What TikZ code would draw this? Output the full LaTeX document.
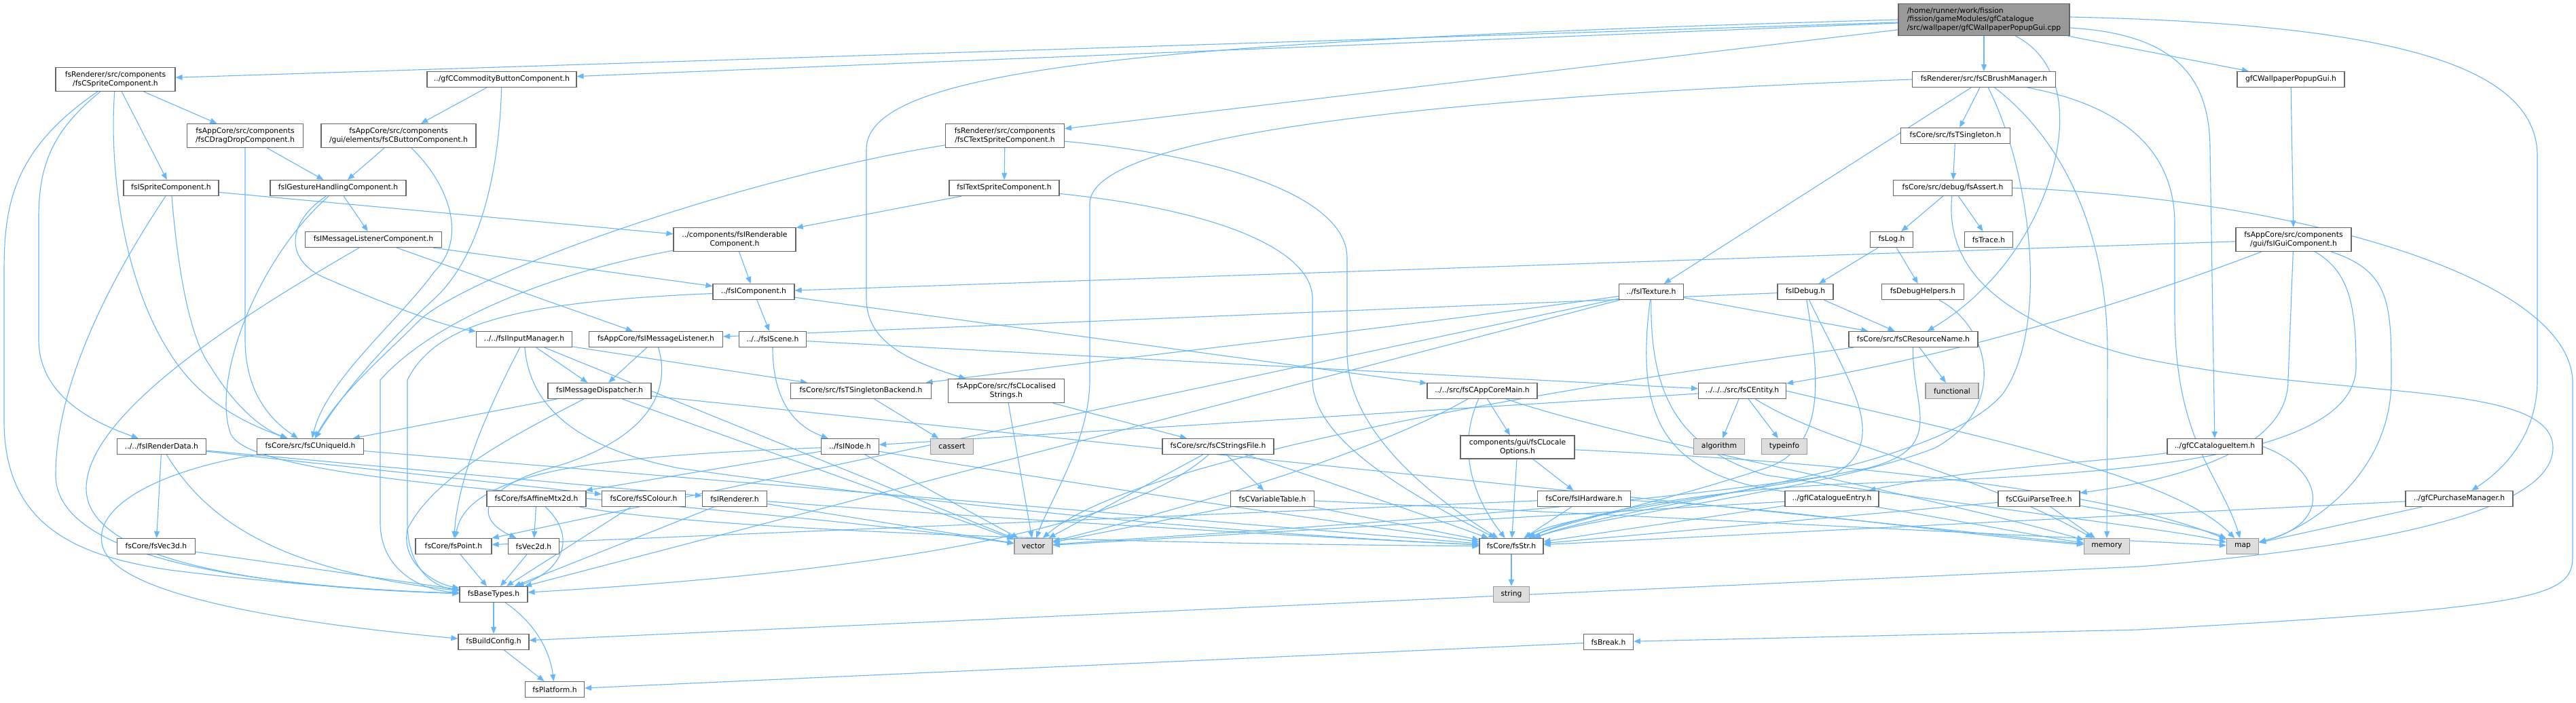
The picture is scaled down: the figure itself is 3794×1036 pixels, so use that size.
\documentclass[tikz,border=0pt]{standalone}
\usepackage{fontspec}
\newfontfamily\dv{DejaVu Sans}
\usetikzlibrary{arrows.meta}
\pgfdeclarelayer{back}
\pgfdeclarelayer{bg}
\pgfsetlayers{back,bg,main}
\definecolor{edgeblue}{HTML}{63B8FF}
\definecolor{nodeborder}{HTML}{666666}
\definecolor{sysfill}{HTML}{DDDDDD}
\definecolor{sysborder}{HTML}{999999}
\definecolor{mainfill}{HTML}{999999}
\begin{document}
\begin{tikzpicture}[x=1pt,y=-1pt,
  nd/.style={draw=nodeborder, fill=white, line width=1.2pt, font={\dv\fontsize{10.8}{12.6}\selectfont}, inner sep=1pt, minimum height=23pt, align=center},
  two/.style={minimum height=35pt},
  sys/.style={nd, draw=sysborder, fill=sysfill},
  ed/.style={draw=edgeblue, line width=1.1pt, -{Triangle[length=10pt,width=8pt]}}]
\begin{pgfonlayer}{back}
\fill[white] (0,0) rectangle (3794,1036);
\end{pgfonlayer}
\useasboundingbox (0,0) rectangle (3794,1036);
% ---------------- nodes
\node[nd, fill=mainfill, minimum width=252, minimum height=47, align=left] (main) at (2922,29) {/home/runner/work/fission\\/fission/gameModules/gfCatalogue\\/src/wallpaper/gfCWallpaperPopupGui.cpp};
\node[nd, two, minimum width=176] (csprite) at (170,117) {fsRenderer/src/components\\/fsCSpriteComponent.h};
\node[nd, minimum width=220] (commodity) at (739,117) {../gfCCommodityButtonComponent.h};
\node[nd, minimum width=211] (brush) at (2922,117) {fsRenderer/src/fsCBrushManager.h};
\node[nd, minimum width=158] (wallgui) at (3374,117) {gfCWallpaperPopupGui.h};
\node[nd, two, minimum width=171] (dragdrop) at (361,200) {fsAppCore/src/components\\/fsCDragDropComponent.h};
\node[nd, two, minimum width=228] (button) at (587,200) {fsAppCore/src/components\\/gui/elements/fsCButtonComponent.h};
\node[nd, two, minimum width=175] (textsprite) at (1480,200) {fsRenderer/src/components\\/fsCTextSpriteComponent.h};
\node[nd, minimum width=161] (tsingleton) at (2880,200) {fsCore/src/fsTSingleton.h};
\node[nd, minimum width=140] (ispritec) at (252,277) {fsISpriteComponent.h};
\node[nd, minimum width=200] (gesture) at (498,277) {fsIGestureHandlingComponent.h};
\node[nd, minimum width=162] (itextsprite) at (1479,277) {fsITextSpriteComponent.h};
\node[nd, minimum width=175] (assert) at (2876,277) {fsCore/src/debug/fsAssert.h};
\node[nd, minimum width=201] (msglc) at (550,353) {fsIMessageListenerComponent.h};
\node[nd, two, minimum width=180] (renderable) at (1082,353) {../components/fsIRenderable\\Component.h};
\node[nd, minimum width=63] (log) at (2786,353) {fsLog.h};
\node[nd, minimum width=71] (trace) at (2929,353) {fsTrace.h};
\node[nd, two, minimum width=170] (guicomp) at (3378,353) {fsAppCore/src/components\\/gui/fsIGuiComponent.h};
\node[nd, minimum width=120] (icomp) at (1110,430) {../fsIComponent.h};
\node[nd, minimum width=95] (itexture) at (2432,430) {../fsITexture.h};
\node[nd, minimum width=82] (idebug) at (2659,430) {fsIDebug.h};
\node[nd, minimum width=121] (debughelpers) at (2832,430) {fsDebugHelpers.h};
\node[nd, minimum width=141] (inputmgr) at (772,500) {../../fsIInputManager.h};
\node[nd, minimum width=197] (msglistener) at (966,500) {fsAppCore/fsIMessageListener.h};
\node[nd, minimum width=99] (scene) at (1138,500) {../../fsIScene.h};
\node[nd, minimum width=190] (resname) at (2818,500) {fsCore/src/fsCResourceName.h};
\node[nd, minimum width=152] (msgdisp) at (883,576) {fsIMessageDispatcher.h};
\node[nd, minimum width=207] (sbackend) at (1268,576) {fsCore/src/fsTSingletonBackend.h};
\node[nd, two, minimum width=171] (localised) at (1482,576) {fsAppCore/src/fsCLocalised\\Strings.h};
\node[nd, minimum width=162] (appcoremain) at (2183,576) {../../src/fsCAppCoreMain.h};
\node[nd, minimum width=129] (entity) at (2566,576) {../../../src/fsCEntity.h};
\node[sys, minimum width=78] (functional) at (2875,576) {functional};
\node[nd, minimum width=131] (renderdata) at (238,658) {../../fsIRenderData.h};
\node[nd, minimum width=157] (uniqueid) at (457,658) {fsCore/src/fsCUniqueId.h};
\node[nd, minimum width=85] (inode) at (1252,658) {../fsINode.h};
\node[sys, minimum width=63] (cassert) at (1402,658) {cassert};
\node[nd, minimum width=164] (stringsfile) at (1794,658) {fsCore/src/fsCStringsFile.h};
\node[nd, two, minimum width=168, minimum height=34] (localeopts) at (2235,659) {components/gui/fsCLocale\\Options.h};
\node[sys, minimum width=75] (algorithm) at (2532,658) {algorithm};
\node[sys, minimum width=67] (typeinfo) at (2628,658) {typeinfo};
\node[nd, minimum width=140] (catitem) at (3262,658) {../gfCCatalogueItem.h};
\node[nd, minimum width=146] (affine) at (790,735) {fsCore/fsAffineMtx2d.h};
\node[nd, minimum width=123] (scolour) at (948,735) {fsCore/fsSColour.h};
\node[nd, minimum width=95] (irenderer) at (1082,735) {fsIRenderer.h};
\node[nd, minimum width=123] (vartable) at (1874,735) {fsCVariableTable.h};
\node[nd, minimum width=137] (ihardware) at (2333,735) {fsCore/fsIHardware.h};
\node[nd, minimum width=138] (catentry) at (2698,735) {../gfICatalogueEntry.h};
\node[nd, minimum width=120] (parsetree) at (3003,735) {fsCGuiParseTree.h};
\node[nd, minimum width=158] (purchase) at (3622,735) {../gfCPurchaseManager.h};
\node[nd, minimum width=115] (vec3d) at (230,805) {fsCore/fsVec3d.h};
\node[nd, minimum width=112] (point) at (668,805) {fsCore/fsPoint.h};
\node[nd, minimum width=75] (vec2d) at (786,805) {fsVec2d.h};
\node[sys, minimum width=56] (vector) at (1522,805) {vector};
\node[nd, minimum width=94] (fsstr) at (2226,805) {fsCore/fsStr.h};
\node[sys, minimum width=67] (memory) at (3103,805) {memory};
\node[sys, minimum width=47] (map) at (3303,805) {map};
\node[nd, minimum width=100] (basetypes) at (727,876) {fsBaseTypes.h};
\node[sys, minimum width=53] (string) at (2226,876) {string};
\node[nd, minimum width=104] (buildconfig) at (727,946) {fsBuildConfig.h};
\node[nd, minimum width=73] (breakh) at (2369,946) {fsBreak.h};
\node[nd, minimum width=87] (platform) at (817,1016) {fsPlatform.h};
% ---------------- edges
\begin{pgfonlayer}{bg}
% main
\draw[ed] (main) -- (csprite);
\draw[ed] (main) -- (commodity);
\draw[ed] (main) -- (textsprite);
\draw[ed] (main.west) .. controls (1700,60) and (1276,100) .. (1276,220) -- (1276,440) .. controls (1276,500) and (1330,530) .. (localised);
\draw[ed] (main) -- (brush);
\draw[ed] (main) -- (wallgui);
\draw[ed] ([yshift=-12pt]main.east) .. controls (3200,50) and (3255,110) .. (3255,220) -- (catitem);
\draw[ed] ([yshift=4pt]main.east) .. controls (3500,35) and (3737,90) .. (3737,230) -- (3737,560) .. controls (3737,640) and (3690,690) .. (purchase);
\draw[ed] (main) .. controls (3040,90) and (3045,180) .. (3020,260) .. controls (2990,360) and (2920,440) .. (resname);
% brush
\draw[ed] (brush) -- (tsingleton);
\draw[ed] (brush) -- (itexture);
\draw[ed] (brush.west) .. controls (2200,140) and (1605,190) .. (1605,300) -- (1605,560) .. controls (1605,650) and (1545,740) .. (vector);
\draw[ed] (brush) .. controls (3030,200) and (3104,330) .. (3104,520) -- (memory);
\draw[ed] (brush) .. controls (3150,160) and (3203,240) .. (3203,330) -- (3203,460) .. controls (3203,650) and (3270,700) .. (map);
\draw[ed] (brush) .. controls (2990,250) and (3020,480) .. (2950,580) .. controls (2850,700) and (2400,740) .. (fsstr);
% singleton / assert / log
\draw[ed] (tsingleton) -- (assert);
\draw[ed] (assert) -- (log);
\draw[ed] (assert) -- (trace);
\draw[ed] (assert.east) .. controls (3350,290) and (3780,400) .. (3789,560) -- (3789,820) .. controls (3789,880) and (3740,895) .. (3150,928) -- (breakh);
\draw[ed] (assert) .. controls (2866,380) and (2920,470) .. (3150,527) .. controls (3450,590) and (3760,560) .. (3760,660) .. controls (3760,770) and (3400,815) .. (3150,835) -- (buildconfig);
\draw[ed] (log) -- (idebug);
\draw[ed] (log) -- (debughelpers);
\draw[ed] (idebug) -- (resname);
\draw[ed] (idebug) -- (msglistener);
\draw[ed] (idebug) .. controls (2680,560) and (2690,660) .. (2600,690) .. controls (2450,740) and (2300,770) .. (fsstr);
\draw[ed] (idebug) .. controls (2720,560) and (2790,650) .. (2700,700) .. controls (2300,760) and (1700,790) .. (vector);
\draw[ed] (debughelpers) .. controls (2930,480) and (2960,600) .. (2850,660) .. controls (2700,720) and (2350,760) .. (fsstr);
% texture
\draw[ed] (itexture) -- (resname);
\draw[ed] (itexture) .. controls (2000,490) and (1750,515) .. (sbackend);
\draw[ed] (itexture) -- (basetypes);
\draw[ed] (itexture) -- (point);
\draw[ed] (itexture) .. controls (2410,600) and (2440,690) .. (2600,720) .. controls (2850,760) and (3000,790) .. (memory);
\draw[ed] (itexture) .. controls (2430,580) and (2470,660) .. (2600,700) .. controls (3000,760) and (3200,780) .. (map);
% resource name
\draw[ed] (resname) -- (functional);
\draw[ed] (resname) .. controls (2815,600) and (2870,660) .. (2750,690) .. controls (2550,730) and (2300,760) .. (fsstr);
\draw[ed] (resname) .. controls (2600,530) and (1700,650) .. (vector);
% gui component
\draw[ed] (guicomp) -- (icomp);
\draw[ed] (guicomp) .. controls (3150,440) and (2900,520) .. (entity);
\draw[ed] (guicomp) -- (3370,560) .. controls (3370,650) and (3250,700) .. (parsetree);
\draw[ed] (guicomp) .. controls (3460,400) and (3470,450) .. (3470,540) .. controls (3470,680) and (3100,700) .. (2750,712) .. controls (2500,720) and (2320,760) .. (fsstr);
\draw[ed] (guicomp) .. controls (3522,400) and (3522,450) .. (3522,560) .. controls (3522,700) and (3400,780) .. (map);
\draw[ed] (wallgui) -- (guicomp);
% catalogue
\draw[ed] (catitem) .. controls (3100,680) and (2900,690) .. (catentry);
\draw[ed] (catitem.east) .. controls (3420,690) and (3440,770) .. (map);
\draw[ed] (purchase) -- (map);
\draw[ed] (purchase) -- (fsstr);
\draw[ed] (catentry) -- (fsstr);
\draw[ed] (catentry) -- (vector);
\draw[ed] (parsetree) -- (memory);
\draw[ed] (parsetree) .. controls (3150,760) and (3250,780) .. (map);
\draw[ed] (parsetree) -- (fsstr);
% entity
\draw[ed] (entity) -- (algorithm);
\draw[ed] (entity) -- (typeinfo);
\draw[ed] (entity) -- (inode);
\draw[ed] (entity) .. controls (2700,660) and (2900,690) .. (memory);
\draw[ed] (entity.east) .. controls (2900,640) and (3200,700) .. (map);
% app core main
\draw[ed] (appcoremain) -- (localeopts);
\draw[ed] (appcoremain) .. controls (2150,650) and (2160,720) .. (fsstr);
\draw[ed] (appcoremain) .. controls (2000,680) and (1700,760) .. (vector);
\draw[ed] (appcoremain) .. controls (2400,650) and (2800,720) .. (memory);
\draw[ed] (localeopts) -- (fsstr);
\draw[ed] (localeopts) -- (ihardware);
\draw[ed] (localeopts) .. controls (2700,680) and (3100,720) .. (map);
\draw[ed] (ihardware) -- (fsstr);
\draw[ed] (ihardware) -- (point);
\draw[ed] (ihardware) .. controls (2600,745) and (2900,790) .. (memory);
% strings
\draw[ed] (stringsfile) -- (vartable);
\draw[ed] (stringsfile) -- (vector);
\draw[ed] (stringsfile) .. controls (1900,690) and (2100,760) .. (fsstr);
\draw[ed] (stringsfile) .. controls (1700,740) and (1500,830) .. (basetypes);
\draw[ed] (vartable) -- (fsstr);
\draw[ed] (vartable) -- (vector);
\draw[ed] (vartable) .. controls (2400,760) and (3000,790) .. (map);
\draw[ed] (localised) -- (vector);
\draw[ed] (localised) -- (stringsfile);
\draw[ed] (sbackend) -- (cassert);
% messages / input
\draw[ed] (msgdisp) -- (uniqueid);
\draw[ed] (msgdisp) .. controls (760,640) and (640,700) .. (600,780) .. controls (590,830) and (640,860) .. (basetypes);
\draw[ed] (msgdisp) -- (vector);
\draw[ed] (msgdisp) -- (memory);
\draw[ed] (inputmgr) .. controls (720,600) and (675,700) .. (point);
\draw[ed] (inputmgr) -- (msgdisp);
\draw[ed] (inputmgr) -- (sbackend);
\draw[ed] (inputmgr) -- (vector);
\draw[ed] (inputmgr) .. controls (780,600) and (850,660) .. (1000,690) .. controls (1500,760) and (1900,790) .. (fsstr);
\draw[ed] (msglistener) -- (msgdisp);
\draw[ed] (msglistener) .. controls (990,580) and (950,650) .. (810,690) .. controls (720,715) and (690,760) .. (vec2d);
\draw[ed] (scene) .. controls (1138,560) and (1150,620) .. (inode);
\draw[ed] (scene) -- (entity);
\draw[ed] (icomp) -- (scene);
\draw[ed] (icomp) .. controls (750,445) and (640,480) .. (600,560) -- (600,770) .. controls (600,840) and (640,865) .. (basetypes);
\draw[ed] (icomp) -- (appcoremain);
\draw[ed] (renderable) -- (icomp);
\draw[ed] (renderable) .. controls (820,400) and (640,470) .. (560,560) -- (560,770) .. controls (560,840) and (620,870) .. (basetypes);
% sprites
\draw[ed] (textsprite) -- (itextsprite);
\draw[ed] (textsprite) .. controls (1100,260) and (700,400) .. (620,470) .. controls (560,530) and (500,580) .. (uniqueid);
\draw[ed] (textsprite) .. controls (1800,230) and (1984,290) .. (1984,380) -- (1984,520) .. controls (1984,640) and (2120,740) .. (fsstr);
\draw[ed] (itextsprite) -- (renderable);
\draw[ed] (itextsprite) .. controls (1800,310) and (1933,370) .. (1933,440) -- (1933,560) .. controls (1933,650) and (2080,730) .. (fsstr);
\draw[ed] (csprite) -- (dragdrop);
\draw[ed] (csprite) -- (ispritec);
\draw[ed] (csprite) .. controls (80,190) and (57,240) .. (57,320) -- (57,500) .. controls (57,580) and (130,620) .. (renderdata);
\draw[ed] (csprite) .. controls (160,260) and (185,420) .. (250,520) .. controls (290,585) and (350,620) .. (uniqueid);
\draw[ed] (csprite) .. controls (20,220) and (6,300) .. (6,400) -- (6,620) .. controls (6,780) and (120,820) .. (250,840) .. controls (450,865) and (600,872) .. (basetypes);
\draw[ed] (commodity) -- (button);
\draw[ed] (commodity) .. controls (735,260) and (705,380) .. (640,440) .. controls (580,495) and (510,570) .. (uniqueid);
\draw[ed] (button) -- (gesture);
\draw[ed] (button) .. controls (660,270) and (690,350) .. (640,400) .. controls (590,470) and (480,560) .. (uniqueid);
\draw[ed] (dragdrop) -- (361,500) .. controls (361,580) and (400,620) .. (uniqueid);
\draw[ed] (dragdrop) -- (gesture);
\draw[ed] (ispritec) -- (renderable);
\draw[ed] (ispritec) .. controls (262,400) and (280,500) .. (310,540) .. controls (340,590) and (380,630) .. (uniqueid);
\draw[ed] (ispritec) .. controls (170,400) and (82,560) .. (82,700) .. controls (82,830) and (400,865) .. (basetypes);
\draw[ed] (gesture) -- (msglc);
\draw[ed] (gesture) .. controls (420,330) and (420,385) .. (480,410) .. controls (560,445) and (650,480) .. (inputmgr);
\draw[ed] (gesture) .. controls (380,380) and (310,560) .. (340,640) .. controls (380,720) and (1000,730) .. (vector);
\draw[ed] (msglc) -- (icomp);
\draw[ed] (msglc) -- (msglistener);
\draw[ed] (msglc) .. controls (400,440) and (127,600) .. (127,720) .. controls (127,840) and (450,868) .. (basetypes);
% render data & basics
\draw[ed] (renderdata) -- (vec3d);
\draw[ed] (renderdata) .. controls (300,760) and (400,840) .. (basetypes);
\draw[ed] (renderdata) -- (scolour);
\draw[ed] (renderdata) -- (irenderer);
\draw[ed] (uniqueid) .. controls (250,690) and (140,740) .. (150,800) .. controls (160,880) and (450,920) .. (buildconfig);
\draw[ed] (uniqueid) -- (fsstr);
\draw[ed] (vec3d) -- (basetypes);
\draw[ed] (point) -- (basetypes);
\draw[ed] (vec2d) -- (basetypes);
\draw[ed] (affine) -- (vec2d);
\draw[ed] (affine) .. controls (850,790) and (830,840) .. (basetypes);
\draw[ed] (affine) .. controls (1000,775) and (1500,800) .. (fsstr);
\draw[ed] (scolour) -- (basetypes);
\draw[ed] (irenderer) -- (basetypes);
\draw[ed] (irenderer) -- (vector);
\draw[ed] (irenderer) .. controls (1400,760) and (1900,790) .. (fsstr);
\draw[ed] (inode) -- (affine);
\draw[ed] (inode) .. controls (900,672) and (690,690) .. (point);
\draw[ed] (inode) -- (vector);
\draw[ed] (inode) .. controls (1500,700) and (1900,760) .. (fsstr);
\draw[ed] (fsstr) -- (string);
\draw[ed] (basetypes) -- (buildconfig);
\draw[ed] (basetypes) .. controls (790,920) and (810,960) .. (platform);
\draw[ed] (buildconfig) -- (platform);
\draw[ed] (breakh) -- (platform);
\end{pgfonlayer}
\end{tikzpicture}
\end{document}
